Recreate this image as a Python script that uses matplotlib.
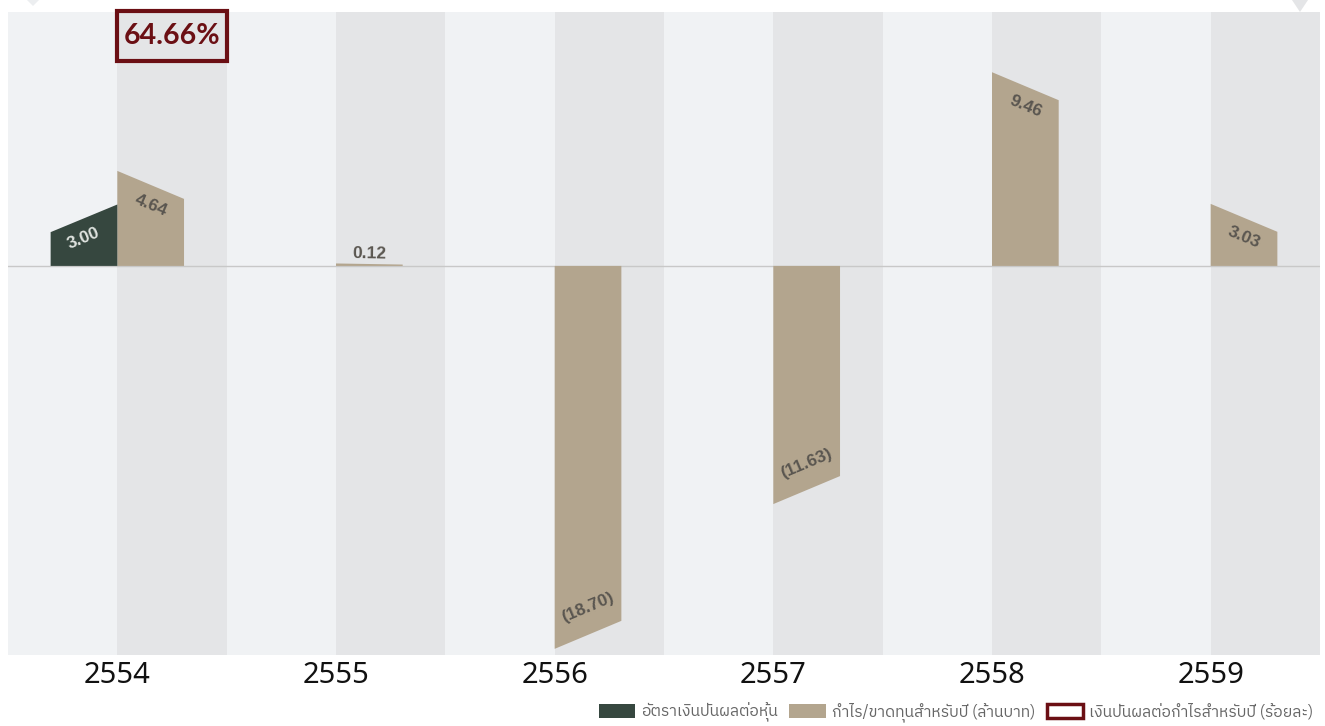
import math
import matplotlib
matplotlib.use('Agg')
import matplotlib.pyplot as plt
from matplotlib.patches import Polygon, Rectangle, Patch
from matplotlib import font_manager as fm
from matplotlib.ft2font import FT2Font
import matplotlib.transforms as mtransforms

# ---------------- data ----------------
years = ['2554', '2555', '2556', '2557', '2558', '2559']
dividend_per_share = [3.00, None, None, None, None, None]
dividend_labels = ['3.00', '', '', '', '', '']
profit = [4.64, 0.12, -18.70, -11.63, 9.46, 3.03]
profit_labels = ['4.64', '0.12', '(18.70)', '(11.63)', '9.46', '3.03']
payout_ratio_label = '64.66%'
payout_year = '2554'
legend_labels = ['อัตราเงินปันผลต่อหุ้น',
                 'กำไร/ขาดทุนสำหรับปี (ล้านบาท)',
                 'เงินปันผลต่อกำไรสำหรับปี (ร้อยละ)']

# ---------------- styles ----------------
GREEN = '#36473f'
TAN = '#b3a58e'
RED = '#6b0f14'
LIGHT = '#f0f2f4'
DARK = '#e4e5e7'


def find_thai_font():
    pref = []
    other = []
    for f in fm.fontManager.ttflist:
        try:
            cm = FT2Font(f.fname).get_charmap()
        except Exception:
            continue
        if ord('ก') in cm and ord('ำ') in cm:
            (pref if 'Sans' in f.name else other).append(f.name)
    if pref:
        return pref[0]
    if other:
        return other[0]
    return 'DejaVu Sans'


thai_font = find_thai_font()
plt.rcParams['font.family'] = ['Noto Sans', thai_font, 'DejaVu Sans']

W, H = 1325, 726
fig = plt.figure(figsize=(W / 100, H / 100), dpi=100)
ax_left, ax_right, ax_top, ax_bottom = 8, 1320, 12, 655
ax = fig.add_axes([ax_left / W, 1 - ax_bottom / H,
                   (ax_right - ax_left) / W, (ax_bottom - ax_top) / H])

n = len(years)
ymin, ymax = -19.0, 12.4
ax.set_xlim(-0.5, n - 0.5)
ax.set_ylim(ymin, ymax)

px_per_unit_y = (ax_bottom - ax_top) / (ymax - ymin)
px_per_unit_x = (ax_right - ax_left) / n

# background bands
for i in range(n):
    ax.axvspan(i - 0.5, i, color=LIGHT, lw=0, zorder=0)
    ax.axvspan(i, i + 0.5, color=DARK, lw=0, zorder=0)

ax.axhline(0, color='#c8c8c8', lw=1, zorder=1)

bar_w = 0.305
slant_px = 28


def slant_for(v):
    s = min(slant_px / px_per_unit_y, 0.45 * abs(v))
    return s if v >= 0 else -s


def add_label(text, xc, ymid, v, rot, color):
    h_px = abs(v) * px_per_unit_y
    sgn = 1 if v >= 0 else -1
    if h_px > 35:
        off = -sgn * (20 if v >= 0 else 27)
    else:
        off = sgn * 10
    ax.annotate(text, xy=(xc, ymid), xytext=(0, off), textcoords='offset pixels',
                rotation=rot, rotation_mode='anchor', ha='center', va='center',
                fontsize=12.5, fontweight='bold', color=color,
                family=['Liberation Sans', 'DejaVu Sans'], zorder=5)


# profit bars (right of centre)
for i, v in enumerate(profit):
    s = slant_for(v)
    verts = [(i, 0), (i, v), (i + bar_w, v - s), (i + bar_w, 0)]
    ax.add_patch(Polygon(verts, closed=True, facecolor=TAN, edgecolor='none', zorder=3))
    rot = -math.degrees(math.atan2(s * px_per_unit_y, bar_w * px_per_unit_x))
    add_label(profit_labels[i], i + bar_w / 2, v - s / 2, v, rot, '#5a5650')

# dividend bars (left of centre)
for i, v in enumerate(dividend_per_share):
    if v is None:
        continue
    s = slant_for(v)
    verts = [(i - bar_w, 0), (i - bar_w, v - s), (i, v), (i, 0)]
    ax.add_patch(Polygon(verts, closed=True, facecolor=GREEN, edgecolor='none', zorder=3))
    rot = math.degrees(math.atan2(s * px_per_unit_y, bar_w * px_per_unit_x))
    add_label(dividend_labels[i], i - bar_w / 2, v - s / 2, v, rot, '#dfe3df')

# payout ratio box
pi = years.index(payout_year)
blend = mtransforms.blended_transform_factory(ax.transData, ax.transAxes)
y_lo = (ax_bottom - 60.5) / (ax_bottom - ax_top)
y_hi = (ax_bottom - 11) / (ax_bottom - ax_top)
ax.add_patch(Rectangle((pi, y_lo), 0.5, y_hi - y_lo, transform=blend,
                       facecolor=DARK, edgecolor=RED, lw=3, clip_on=False, zorder=6))
ax.text(pi + 0.25, (y_lo + y_hi) / 2, payout_ratio_label, transform=blend,
        ha='center', va='center', fontsize=20.5, color=RED, fontweight='bold',
        family=['Lato', 'DejaVu Sans'], zorder=7, clip_on=False)

# axis styling
ax.set_xticks(range(n))
ax.set_xticklabels(years, fontsize=21, color='#111111', family=['Noto Sans', 'DejaVu Sans'])
ax.tick_params(axis='x', length=0, pad=4)
ax.set_yticks([])
for sp in ax.spines.values():
    sp.set_visible(False)

# small decorative triangles at top
fig.patches.append(Polygon([(1292 / W, 1), (1308 / W, 1), (1300 / W, 1 - 12 / H)],
                           closed=True, transform=fig.transFigure,
                           facecolor=DARK, edgecolor='none'))
fig.patches.append(Polygon([(27 / W, 1), (39 / W, 1), (33 / W, 1 - 6 / H)],
                           closed=True, transform=fig.transFigure,
                           facecolor='#eceef0', edgecolor='none'))

handles = [Patch(facecolor=GREEN, edgecolor='none'),
           Patch(facecolor=TAN, edgecolor='none'),
           Patch(facecolor='white', edgecolor=RED, lw=2.5)]
leg = fig.legend(handles, legend_labels, loc='lower right',
                 bbox_to_anchor=(1322 / W, -5 / H), ncol=3, frameon=False,
                 prop={'family': [thai_font, 'DejaVu Sans'], 'size': 11.3},
                 handlelength=2.3, handleheight=1.0, handletextpad=0.4,
                 columnspacing=0.75, borderaxespad=0.15, labelcolor='#666666')

fig.savefig('out.png', dpi=100, facecolor='white')
